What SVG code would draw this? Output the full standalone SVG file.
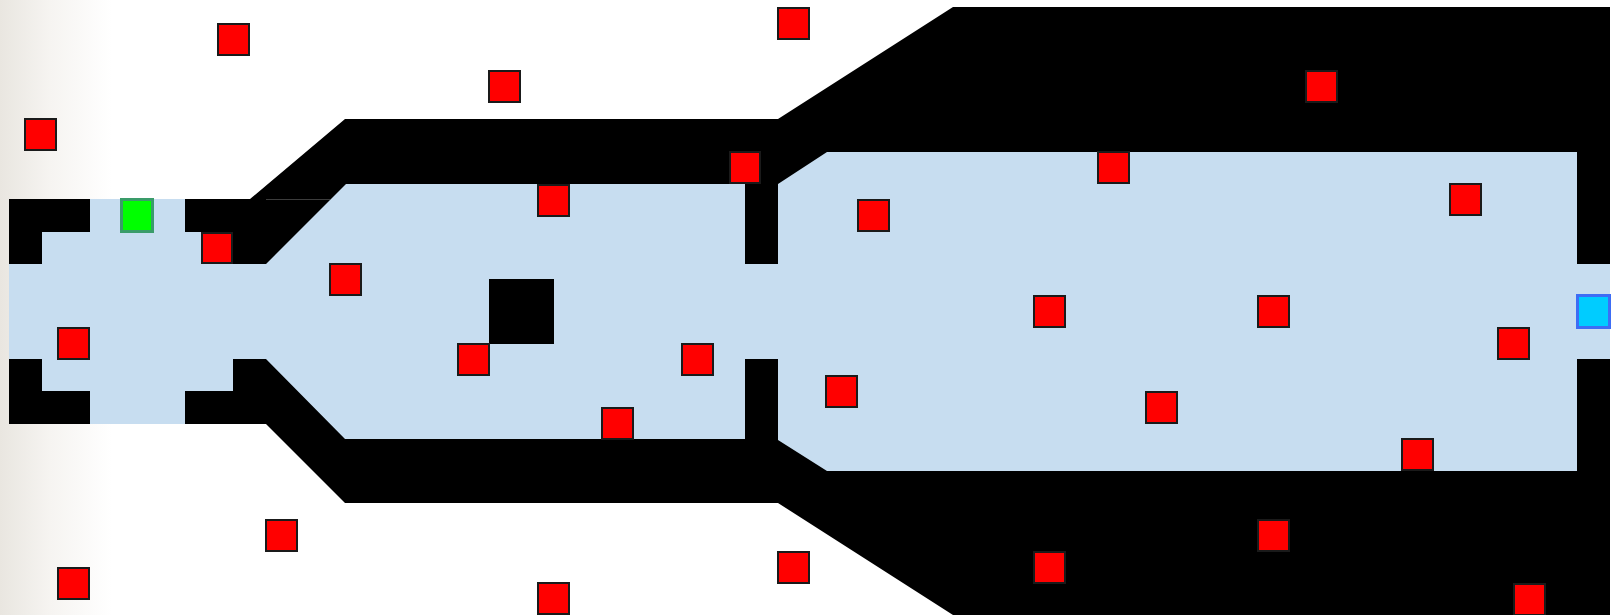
<svg xmlns="http://www.w3.org/2000/svg" width="1621" height="615" viewBox="0 0 1621 615">
  <defs>
    <linearGradient id="edge" x1="0" y1="0" x2="1" y2="0">
      <stop offset="0" stop-color="#e9e6e0"/>
      <stop offset="0.45" stop-color="#f6f4f1"/>
      <stop offset="1" stop-color="#ffffff"/>
    </linearGradient>
    <style>
      .wall { fill: #000000; }
      .floor { fill: #c7ddf0; }
      .red { fill: #ff0000; stroke: #1a1a1a; stroke-width: 2; }
    </style>
  </defs>
  <rect x="0" y="0" width="1621" height="615" fill="#ffffff"/>
  <rect x="0" y="0" width="112" height="615" fill="url(#edge)"/>

  <g id="walls">
    <polygon class="wall" points="9,199 250,199 345,119 778,119 953,7 1610,7 1610,615 953,615 778,503 345,503 266,424 9,424"/>
  </g>

  <g id="floor">
    <polygon class="floor" points="90,199 185,199 185,232 233,232 233,264 266,264 346,184 745,184 745,264 778,264 778,184 827,152 1577,152 1577,264 1610,264 1610,359 1577,359 1577,471 827,471 778,440 778,359 745,359 745,439 345,439 266,359 233,359 233,391 185,391 185,424 90,424 90,391 42,391 42,359 9,359 9,264 42,264 42,232 90,232"/>
    <rect class="wall" x="489" y="279" width="65" height="65"/>
    <line x1="266" y1="199.5" x2="330" y2="199.5" stroke="#3c3c3c" stroke-width="1"/>
  </g>

  <g id="obstacles">
    <rect class="red" x="218" y="24" width="31" height="31"/>
    <rect class="red" x="25" y="119" width="31" height="31"/>
    <rect class="red" x="202" y="233" width="30" height="30"/>
    <rect class="red" x="58" y="328" width="31" height="31"/>
    <rect class="red" x="489" y="71" width="31" height="31"/>
    <rect class="red" x="778" y="8" width="31" height="31"/>
    <rect class="red" x="730" y="152" width="30" height="31"/>
    <rect class="red" x="538" y="185" width="31" height="31"/>
    <rect class="red" x="330" y="264" width="31" height="31"/>
    <rect class="red" x="458" y="344" width="31" height="31"/>
    <rect class="red" x="682" y="344" width="31" height="31"/>
    <rect class="red" x="602" y="408" width="31" height="31"/>
    <rect class="red" x="858" y="200" width="31" height="31"/>
    <rect class="red" x="826" y="376" width="31" height="31"/>
    <rect class="red" x="1306" y="71" width="31" height="31"/>
    <rect class="red" x="1098" y="152" width="31" height="31"/>
    <rect class="red" x="1450" y="184" width="31" height="31"/>
    <rect class="red" x="1034" y="296" width="31" height="31"/>
    <rect class="red" x="1258" y="296" width="31" height="31"/>
    <rect class="red" x="1498" y="328" width="31" height="31"/>
    <rect class="red" x="1146" y="392" width="31" height="31"/>
    <rect class="red" x="1402" y="439" width="31" height="31"/>
    <rect class="red" x="1258" y="520" width="31" height="31"/>
    <rect class="red" x="1034" y="552" width="31" height="31"/>
    <rect class="red" x="1514" y="584" width="31" height="31"/>
    <rect class="red" x="266" y="520" width="31" height="31"/>
    <rect class="red" x="58" y="568" width="31" height="31"/>
    <rect class="red" x="538" y="583" width="31" height="31"/>
    <rect class="red" x="778" y="552" width="31" height="31"/>
  </g>

  <g id="start">
    <rect x="121.5" y="199.5" width="31" height="32" fill="#00ff00" stroke="#3a9c6a" stroke-width="3"/>
  </g>
  <g id="goal">
    <rect x="1577.5" y="295.5" width="32" height="32" fill="#00ccff" stroke="#3d6df5" stroke-width="3"/>
  </g>
</svg>
